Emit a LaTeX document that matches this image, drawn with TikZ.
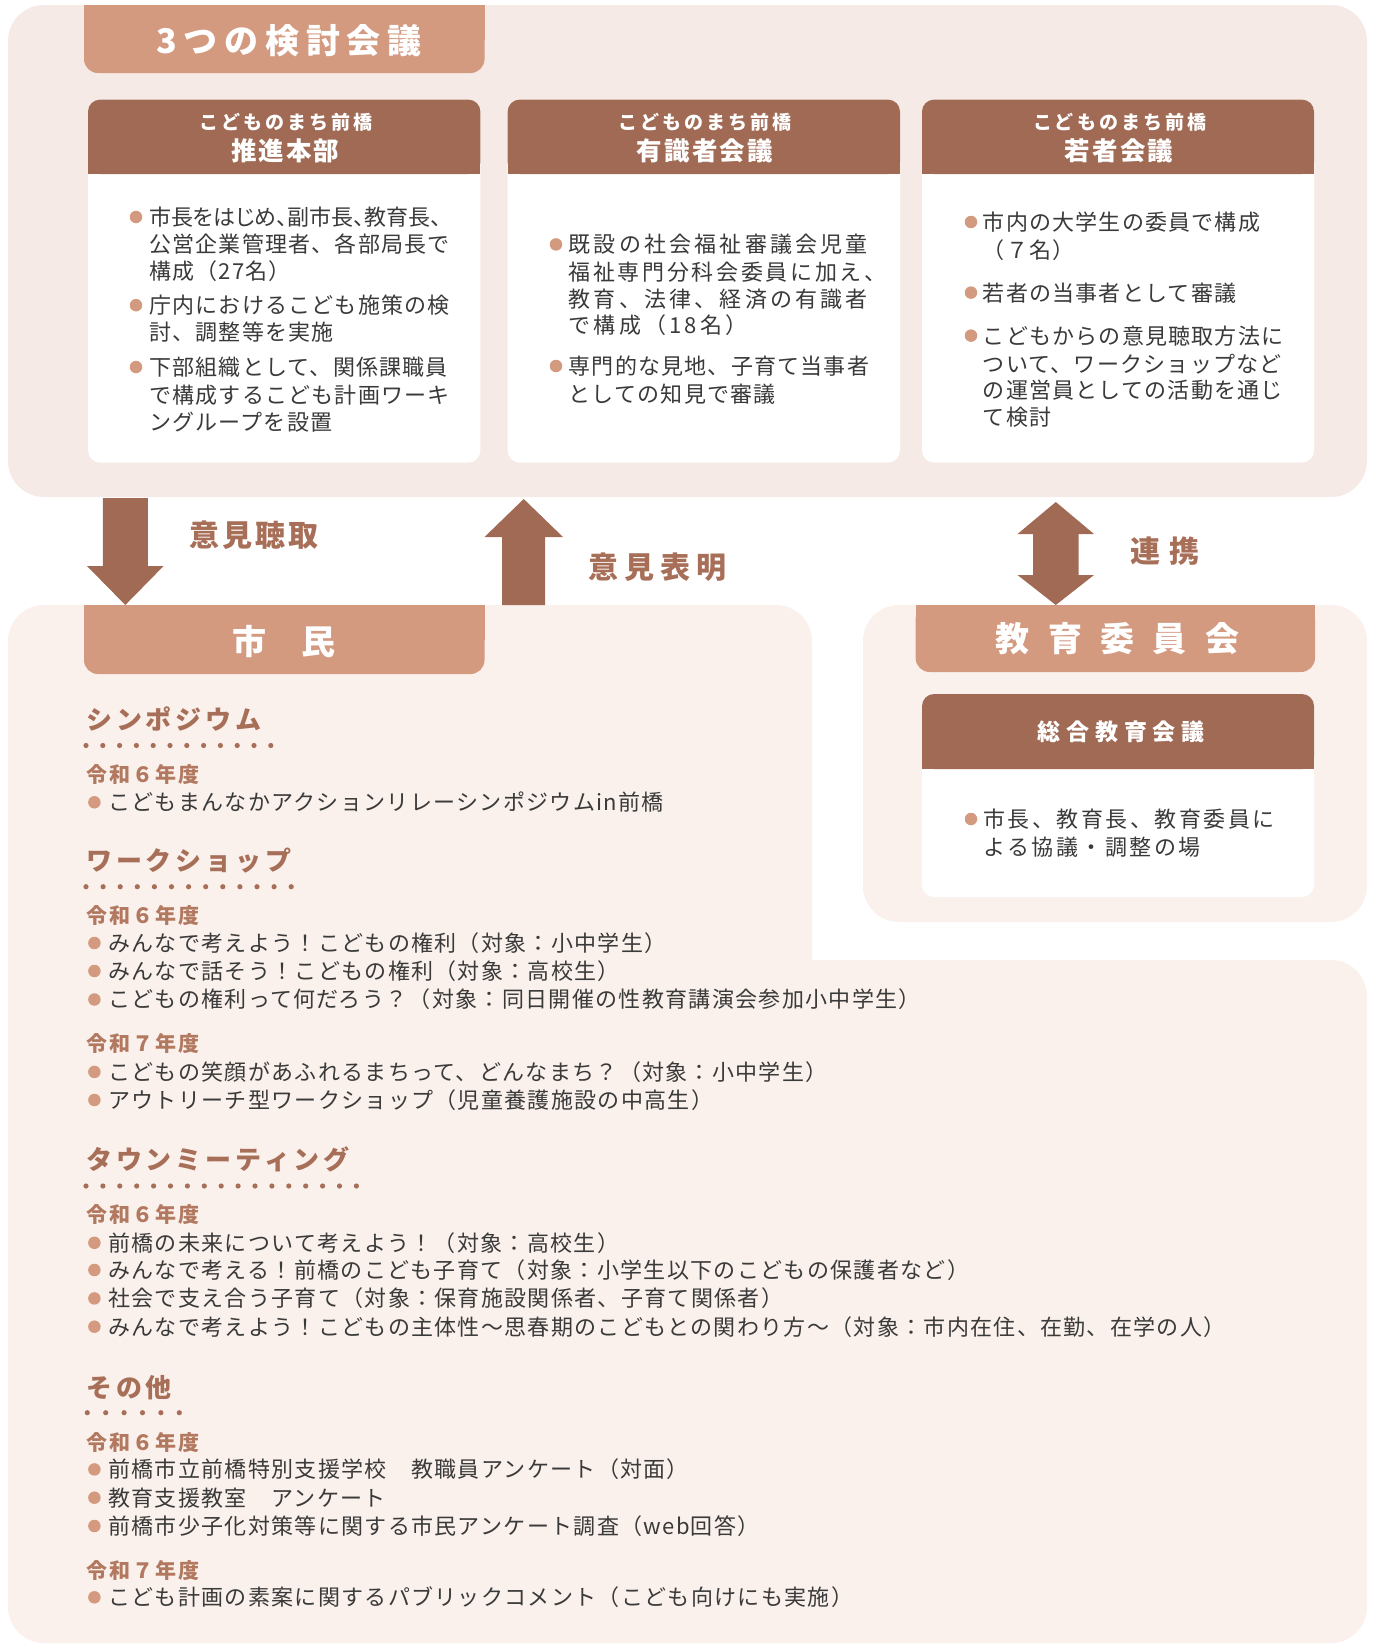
\documentclass[tikz,border=0pt]{standalone}
\usepackage{fontspec}
\setmainfont{Noto Sans CJK JP}
\definecolor{panelA}{HTML}{F5EAE5}
\definecolor{panelB}{HTML}{FAF1EC}
\definecolor{salmon}{HTML}{D39A80}
\definecolor{brownc}{HTML}{A06A54}
\definecolor{headc}{HTML}{A86F58}
\definecolor{yearc}{HTML}{B27960}
\definecolor{txtc}{HTML}{3A3A3A}
\newcommand\myfs[2]{\fontsize{#1}{#1}\selectfont\addfontfeature{LetterSpace=#2}}
\tikzset{
  bodytxt/.style={inner sep=0pt, anchor=base west, yshift=-8.4pt, text=txtc, font=\myfs{22}{#1}},
  bul/.style={circle, fill=salmon, inner sep=0pt, minimum size=12.5pt},
  heads/.style={inner sep=0pt, anchor=base west, yshift=-9.9pt, text=headc, font=\bfseries\myfs{26}{15}},
  yearlbl/.style={inner sep=0pt, anchor=base west, yshift=-8pt, text=yearc, font=\bfseries\myfs{21}{9.5}},
  bsub/.style={inner sep=0pt, anchor=base, yshift=-7.2pt, xshift=1.5pt, text=white, font=\bfseries\myfs{19}{15.8}},
  bmain/.style={inner sep=0pt, anchor=base, yshift=-9.7pt, xshift=1pt, text=white, font=\bfseries\myfs{25.5}{8}},
  bsogo/.style={inner sep=0pt, anchor=base, yshift=-8.7pt, xshift=3pt, text=white, font=\bfseries\myfs{23}{26}},
  bigtitle/.style={inner sep=0pt, anchor=base, yshift=-13pt, text=white, font=\bfseries\myfs{34}{#1}},
  alab/.style={inner sep=0pt, anchor=base, yshift=-11.4pt, text=headc, font=\bfseries\myfs{30}{#1}},
  blockarrow/.style={fill=brownc},
}
\begin{document}
\begin{tikzpicture}[x=1pt,y=-1pt]
\useasboundingbox (0,0) rectangle (1375,1644);
% ---------- top panel ----------
\fill[panelA, rounded corners=36pt] (8,5) rectangle (1367,497);
\fill[salmon, rounded corners=14pt] (84,5) rectangle (484.5,73);
\fill[salmon] (84,5) rectangle (484.5,40);
\node[bigtitle=20, xshift=2pt] (t3) at (287,40) {3つの検討会議};
% three boxes
\foreach \xa/\xb in {88/480.4, 507.6/900, 922/1314}{
  \fill[white, rounded corners=12pt] (\xa,99.6) rectangle (\xb,462.5);
  \fill[brownc, rounded corners=12pt] (\xa,99.6) rectangle (\xb,174);
  \fill[brownc] (\xa,140) rectangle (\xb,174);
}
\node[bsub] (h1a) at (284.2,122.7) {こどものまち前橋};
\node[bmain] (h1b) at (284.2,151) {推進本部};
\node[bsub] (h2a) at (703.8,122.7) {こどものまち前橋};
\node[bmain] (h2b) at (703.8,151) {有識者会議};
\node[bsub] (h3a) at (1118,122.7) {こどものまち前橋};
\node[bmain] (h3b) at (1118,151) {若者会議};
% box 1 text
\node[bul] (b1a) at (136,217) {};
\node[bodytxt=0] (t1a) at (149,217) {\addfontfeature{RawFeature=+palt}市長をはじめ、副市長、教育長、};
\node[bodytxt=5.5] (t1b) at (149,244.4) {公営企業管理者、各部局長で};
\node[bodytxt=5.5] (t1c) at (149,270.6) {構成（27名）};
\node[bul] (b1b) at (136,305.2) {};
\node[bodytxt=5.5] (t1d) at (149,305.2) {庁内におけるこども施策の検};
\node[bodytxt=5.5] (t1e) at (149,332.5) {討、調整等を実施};
\node[bul] (b1c) at (136,367) {};
\node[bodytxt=5.5] (t1f) at (149,367) {下部組織として、関係課職員};
\node[bodytxt=5.5] (t1g) at (149,395.4) {で構成するこども計画ワーキ};
\node[bodytxt=5.5] (t1h) at (149,421.6) {ングループを設置};
% box 2 text
\node[bul] (b2a) at (556,244.4) {};
\node[bodytxt=14.5] (t2a) at (568.5,244.4) {既設の社会福祉審議会児童};
\node[bodytxt=12] (t2b) at (568.5,271.6) {福祉専門分科会委員に加え、};
\node[bodytxt=14.5] (t2c) at (568.5,299) {教育、法律、経済の有識者};
\node[bodytxt=14.5] (t2d) at (568.5,325) {で構成（18名）};
\node[bul] (b2b) at (556,366) {};
\node[bodytxt=5.5] (t2e) at (568.5,366) {専門的な見地、子育て当事者};
\node[bodytxt=5.5] (t2f) at (568.5,394) {としての知見で審議};
% box 3 text
\node[bul] (b3a) at (971,222) {};
\node[bodytxt=5.5] (t3a) at (982.7,222) {市内の大学生の委員で構成};
\node[bodytxt=5.5] (t3b) at (982.7,249.6) {（７名）};
\node[bul] (b3b) at (971,292.6) {};
\node[bodytxt=5.5] (t3c) at (982.7,292.6) {若者の当事者として審議};
\node[bul] (b3c) at (971,335.6) {};
\node[bodytxt=5.5] (t3d) at (982.7,335.6) {こどもからの意見聴取方法に};
\node[bodytxt=5.5] (t3e) at (982.7,364) {ついて、ワークショップなど};
\node[bodytxt=5.5] (t3f) at (982.7,390) {の運営員としての活動を通じ};
\node[bodytxt=5.5] (t3g) at (982.7,417.4) {て検討};
% ---------- lower panels ----------
\fill[panelB, rounded corners=36pt] (8,605) rectangle (812,1100);
\fill[panelB, rounded corners=36pt] (8,960) rectangle (1367,1643);
\fill[panelB, rounded corners=36pt] (863,605) rectangle (1367,922);
% shimin header
\fill[salmon, rounded corners=14pt] (84,605) rectangle (484.5,674);
\fill[salmon] (84,605) rectangle (484.5,640);
\node[bigtitle=1.5] (shimin) at (284,641) {市　民};
% kyouiku header
\fill[salmon, rounded corners=14pt] (915.6,605) rectangle (1315,672);
\fill[salmon] (915.6,605) rectangle (1315,640);
\node[bigtitle=54, xshift=2pt] (kyoiku) at (1115.5,638.7) {教育委員会};
\fill[white, rounded corners=12pt] (922,694) rectangle (1314,897);
\fill[brownc, rounded corners=12pt] (922,694) rectangle (1314,769);
\fill[brownc] (922,730) rectangle (1314,769);
\node[bsogo] (sogo) at (1118,732) {総合教育会議};
\node[bul] (bk) at (971,819) {};
\node[bodytxt=11.4] (tk1) at (983,819) {市長、教育長、教育委員に};
\node[bodytxt=11.4] (tk2) at (983,847.5) {よる協議・調整の場};
% ---------- arrows ----------
\coordinate (dtip) at (125.3,605);
\coordinate (utip) at (523.7,499);
\fill[blockarrow] (102.8,498) -- (147.9,498) -- (147.9,566) -- (163.6,566) -- (dtip) -- (87,566) -- (102.8,566) -- cycle;
\fill[blockarrow] (502,605) -- (545,605) -- (545,537) -- (563,537) -- (utip) -- (484.5,537) -- (502,537) -- cycle;
\fill[blockarrow] (1055.8,502) -- (1094,534) -- (1078.6,534) -- (1078.6,575) -- (1094,575) -- (1055.8,605) -- (1017.5,575) -- (1033,575) -- (1033,534) -- (1017.5,534) -- cycle;
\node[alab=10] (lbl1) at (254,535) {意見聴取};
\node[alab=20] (lbl2) at (657,567.4) {意見表明};
\node[alab=30] (lbl3) at (1165,551) {連携};
% ---------- citizen content ----------
\node[heads] (s1) at (86,719.5) {シンポジウム};
\foreach \i in {0,...,11} \fill[headc] ({86+\i*16.8},745.5) circle (2.6);
\node[yearlbl] (y1) at (86,774) {令和６年度};
\node[bul] (c1b) at (94.4,802.3) {};
\node[bodytxt=6] (c1) at (108,802.3) {こどもまんなかアクションリレーシンポジウムin前橋};

\node[heads] (s2) at (86,861) {ワークショップ};
\foreach \i in {0,...,12} \fill[headc] ({86+\i*17.1},886.7) circle (2.6);
\node[yearlbl] (y2) at (86,915.6) {令和６年度};
\node[bul] (c2b) at (94.4,943) {};
\node[bodytxt=6] (c2) at (108,943) {みんなで考えよう！こどもの権利（対象：小中学生）};
\node[bul] (c3b) at (94.4,971) {};
\node[bodytxt=6] (c3) at (108,971) {みんなで話そう！こどもの権利（対象：高校生）};
\node[bul] (c4b) at (94.4,999.5) {};
\node[bodytxt=6] (c4) at (108,999.5) {こどもの権利って何だろう？（対象：同日開催の性教育講演会参加小中学生）};
\node[yearlbl] (y3) at (86,1043.6) {令和７年度};
\node[bul] (c5b) at (94.4,1071.9) {};
\node[bodytxt=6] (c5) at (108,1071.9) {こどもの笑顔があふれるまちって、どんなまち？（対象：小中学生）};
\node[bul] (c6b) at (94.4,1100) {};
\node[bodytxt=6] (c6) at (108,1100) {アウトリーチ型ワークショップ（児童養護施設の中高生）};

\node[heads] (s3) at (86,1160) {タウンミーティング};
\foreach \i in {0,...,16} \fill[headc] ({86+\i*16.9},1186) circle (2.6);
\node[yearlbl] (y4) at (86,1214.5) {令和６年度};
\node[bul] (c7b) at (94.4,1242.8) {};
\node[bodytxt=6] (c7) at (108,1242.8) {前橋の未来について考えよう！（対象：高校生）};
\node[bul] (c8b) at (94.4,1270) {};
\node[bodytxt=6] (c8) at (108,1270) {みんなで考える！前橋のこども子育て（対象：小学生以下のこどもの保護者など）};
\node[bul] (c9b) at (94.4,1298.4) {};
\node[bodytxt=6] (c9) at (108,1298.4) {社会で支え合う子育て（対象：保育施設関係者、子育て関係者）};
\node[bul] (c10b) at (94.4,1326.7) {};
\node[bodytxt=6] (c10) at (108,1326.7) {みんなで考えよう！こどもの主体性～思春期のこどもとの関わり方～（対象：市内在住、在勤、在学の人）};

\node[heads] (s4) at (86,1387.6) {その他};
\foreach \i in {0,...,5} \fill[headc] ({87.3+\i*18.4},1412.7) circle (2.6);
\node[yearlbl] (y5) at (86,1442) {令和６年度};
\node[bul] (c11b) at (94.4,1469.4) {};
\node[bodytxt=6] (c11) at (108,1469.4) {前橋市立前橋特別支援学校　教職員アンケート（対面）};
\node[bul] (c12b) at (94.4,1497.7) {};
\node[bodytxt=6] (c12) at (108,1497.7) {教育支援教室　アンケート};
\node[bul] (c13b) at (94.4,1526) {};
\node[bodytxt=6] (c13) at (108,1526) {前橋市少子化対策等に関する市民アンケート調査（web回答）};
\node[yearlbl] (y6) at (86,1570) {令和７年度};
\node[bul] (c14b) at (94.4,1597.3) {};
\node[bodytxt=6] (c14) at (108,1597.3) {こども計画の素案に関するパブリックコメント（こども向けにも実施）};
\end{tikzpicture}
\end{document}
